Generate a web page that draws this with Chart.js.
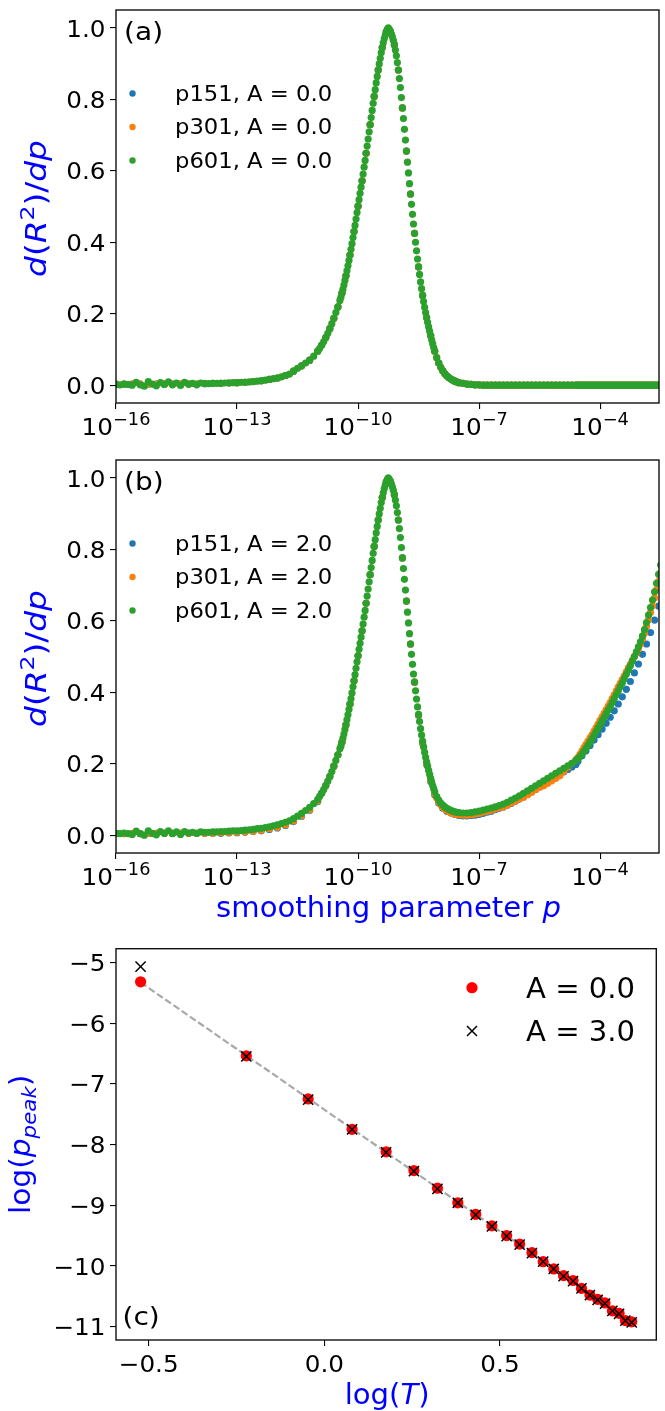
<!DOCTYPE html>
<html>
<head>
<meta charset="utf-8">
<script src="https://cdn.jsdelivr.net/npm/chart.js@4.4.1/dist/chart.umd.min.js"></script>
<style>
  body { margin: 0; background: #fff; width: 665px; height: 1411px; position: relative; overflow: hidden; }
  canvas { position: absolute; left: 0; }
</style>
</head>
<body>
<canvas id="chartA" width="665" height="450" style="top:0"></canvas>
<canvas id="chartB" width="665" height="490" style="top:450px"></canvas>
<canvas id="chartC" width="665" height="471" style="top:940px"></canvas>
<script>
// exponents of the smoothing parameter p (x = 10^e), one list per grid
const logP601 = [
  -16,-15.9,-15.8,-15.7,-15.6,-15.5,-15.4,-15.3,-15.2,-15.1,-15,-14.9,-14.8,-14.7,-14.6,-14.5,-14.4,-14.3,-14.2,-14.1,
  -14,-13.9,-13.8,-13.7,-13.6,-13.5,-13.4,-13.3,-13.2,-13.1,-13,-12.9,-12.8,-12.7,-12.6,-12.5,-12.4,-12.3,-12.2,-12.1,
  -12,-11.9,-11.8,-11.7,-11.6,-11.5,-11.4,-11.3,-11.2,-11.1,-11,
  -10.95,-10.9,-10.85,-10.8,-10.75,-10.7,-10.65,-10.6,-10.55,-10.5,-10.45,
  -10.425,-10.4,-10.375,-10.35,-10.325,-10.3,-10.275,-10.25,-10.225,-10.2,
  -10.175,-10.15,-10.125,-10.1,-10.075,-10.05,-10.025,-10,-9.975,-9.95,
  -9.925,-9.9,-9.875,-9.85,-9.825,-9.8,-9.775,-9.75,-9.725,-9.7,
  -9.675,-9.65,-9.625,-9.6,-9.575,-9.55,-9.525,-9.5,-9.475,-9.45,
  -9.425,-9.4,-9.375,-9.35,-9.325,-9.3,-9.275,-9.25,-9.225,-9.2,
  -9.175,-9.15,-9.125,-9.1,-9.075,-9.05,-9.025,-9,-8.975,-8.95,
  -8.925,-8.9,-8.875,-8.85,-8.825,-8.8,-8.775,-8.75,-8.725,-8.7,
  -8.675,-8.65,-8.625,-8.6,-8.575,-8.55,-8.525,-8.5,-8.475,-8.45,
  -8.425,-8.4,-8.375,-8.35,-8.325,-8.3,-8.275,-8.25,-8.225,-8.2,
  -8.175,-8.15,-8.125,-8.1,
  -8.05,-8,-7.95,-7.9,-7.85,-7.8,-7.75,-7.7,-7.65,-7.6,-7.55,-7.5,
  -7.4,-7.3,-7.2,-7.1,-7,-6.9,-6.8,-6.7,-6.6,-6.5,-6.4,-6.3,-6.2,-6.1,-6,-5.9,-5.8,-5.7,-5.6,-5.5,
  -5.4,-5.3,-5.2,-5.1,-5,-4.9,-4.8,-4.7,-4.6,
  -4.55,-4.5,-4.45,-4.4,-4.35,-4.3,-4.25,-4.2,-4.15,-4.1,-4.05,-4,-3.95,-3.9,-3.85,-3.8,-3.75,-3.7,-3.65,-3.6,
  -3.55,-3.5,-3.45,-3.4,-3.35,-3.3,-3.25,-3.2,-3.15,-3.1,-3.05,-3,-2.95,-2.9,-2.85,-2.8,-2.75,-2.7,-2.65,-2.6,
  -2.55,-2.5
];
const logP301 = [
  -16,-15.8,-15.6,-15.4,-15.2,-15,-14.8,-14.6,-14.4,-14.2,-14,-13.8,-13.6,-13.4,-13.2,-13,-12.8,-12.6,-12.4,-12.2,
  -12,-11.8,-11.6,-11.4,-11.2,-11,
  -10.9,-10.8,-10.7,-10.6,-10.5,-10.4,-10.3,-10.2,-10.1,-10,-9.9,-9.8,-9.7,-9.6,-9.5,-9.4,-9.3,-9.2,-9.1,-9,
  -8.9,-8.8,-8.7,-8.6,-8.5,-8.4,-8.3,-8.2,-8.1,
  -8.05,-8,-7.95,-7.9,-7.85,-7.8,-7.75,-7.7,-7.65,-7.6,-7.55,-7.5,
  -7.4,-7.3,-7.2,-7.1,-7,-6.9,-6.8,-6.7,-6.6,-6.5,-6.4,-6.3,-6.2,-6.1,-6,-5.9,-5.8,-5.7,-5.6,-5.5,
  -5.4,-5.3,-5.2,-5.1,-5,-4.9,-4.8,-4.7,-4.6,
  -4.55,-4.5,-4.45,-4.4,-4.35,-4.3,-4.25,-4.2,-4.15,-4.1,-4.05,-4,-3.95,-3.9,-3.85,-3.8,-3.75,-3.7,-3.65,-3.6,
  -3.55,-3.5,-3.45,-3.4,-3.35,-3.3,-3.25,-3.2,-3.15,-3.1,-3.05,-3,-2.95,-2.9,-2.85,-2.8,-2.75,-2.7,-2.65,-2.6,
  -2.55,-2.5
];
const logP151 = [
  -16,-15.8,-15.6,-15.4,-15.2,-15,-14.8,-14.6,-14.4,-14.2,-14,-13.8,-13.6,-13.4,-13.2,-13,-12.8,-12.6,-12.4,-12.2,
  -12,-11.8,-11.6,-11.4,-11.2,-11,
  -10.9,-10.8,-10.7,-10.6,-10.5,-10.4,-10.3,-10.2,-10.1,-10,-9.9,-9.8,-9.7,-9.6,-9.5,-9.4,-9.3,-9.2,-9.1,-9,
  -8.9,-8.8,-8.7,-8.6,-8.5,-8.4,-8.3,-8.2,-8.1,
  -8,-7.9,-7.8,-7.7,-7.6,-7.5,
  -7.4,-7.3,-7.2,-7.1,-7,-6.9,-6.8,-6.7,-6.6,-6.5,-6.4,-6.3,-6.2,-6.1,-6,-5.9,-5.8,-5.7,-5.6,-5.5,
  -5.4,-5.3,-5.2,-5.1,-5,-4.9,-4.8,-4.7,-4.6,
  -4.55,-4.45,-4.35,-4.25,-4.15,-4.05,-3.95,-3.85,-3.75,-3.65,-3.55,-3.45,-3.35,-3.25,-3.15,-3.05,-2.95,-2.85,-2.75,-2.65,
  -2.55
];

// panel (a): d(R^2)/dp, A = 0.0
const a601 = [
  0.002,0.001,0.003,0.002,0,0.008,0.001,-0.003,0.010,0.003,-0.002,0.007,0.002,0.009,0.001,0.006,-0.001,0.008,0.003,0.005,
  0.001,0.006,0.004,0.004,0.005,0.005,0.005,0.006,0.006,0.007,0.007,0.008,0.008,0.009,0.010,0.011,0.012,0.014,0.016,0.018,
  0.020,0.023,0.027,0.031,0.039,0.047,0.054,0.062,0.070,0.081,0.095,
  0.103,0.112,0.122,0.133,0.145,0.158,0.172,0.187,0.203,0.219,0.237,
  0.246,0.257,0.268,0.280,0.293,0.306,0.320,0.334,0.349,0.364,
  0.380,0.396,0.413,0.430,0.447,0.465,0.483,0.501,0.519,0.537,
  0.554,0.572,0.591,0.610,0.629,0.649,0.669,0.689,0.709,0.729,
  0.749,0.769,0.789,0.808,0.827,0.846,0.864,0.882,0.899,0.915,
  0.931,0.945,0.958,0.970,0.980,0.989,0.996,1.000,0.996,0.990,
  0.983,0.975,0.965,0.953,0.938,0.922,0.903,0.882,0.858,0.833,
  0.805,0.776,0.746,0.716,0.686,0.655,0.624,0.594,0.564,0.535,
  0.506,0.478,0.451,0.425,0.400,0.376,0.353,0.331,0.310,0.289,
  0.270,0.251,0.234,0.218,0.203,0.189,0.176,0.163,0.151,0.139,
  0.127,0.116,0.105,0.095,
  0.077,0.062,0.050,0.040,0.032,0.026,0.021,0.017,0.014,0.011,0.009,0.007,
  0.005,0.003,0.002,0.001,0.001,0,0,0,0,0,0,0,0,0,0,0,0,0,0,0,
  0,0,0,0,0,0,0,0,0,
  0,0,0,0,0,0,0,0,0,0,0,0,0,0,0,0,0,0,0,0,
  0,0,0,0,0,0,0,0,0,0,0,0,0,0,0,0,0,0,0,0,
  0,0
];
const a301 = [
  0.003,0.003,0.003,0.003,0.003,0.003,0.003,0.003,0.003,0.003,0.003,0.004,0.005,0.005,0.006,0.007,0.008,0.010,0.012,0.016,
  0.020,0.027,0.039,0.054,0.070,0.095,
  0.112,0.133,0.158,0.187,0.219,0.257,0.306,0.364,0.430,0.501,0.572,0.649,0.729,0.808,0.882,0.945,0.989,0.990,0.953,0.882,
  0.776,0.655,0.535,0.425,0.331,0.251,0.189,0.139,0.095,
  0.077,0.062,0.050,0.040,0.032,0.026,0.021,0.017,0.014,0.011,0.009,0.007,
  0.005,0.003,0.002,0.001,0.001,0,0,0,0,0,0,0,0,0,0,0,0,0,0,0,
  0,0,0,0,0,0,0,0,0,
  0,0,0,0,0,0,0,0,0,0,0,0,0,0,0,0,0,0,0,0,
  0,0,0,0,0,0,0,0,0,0,0,0,0,0,0,0,0,0,0,0,
  0,0
];
const a151 = [
  0.003,0.003,0.003,0.003,0.003,0.003,0.003,0.003,0.003,0.003,0.003,0.004,0.005,0.005,0.006,0.007,0.008,0.010,0.012,0.016,
  0.020,0.027,0.039,0.054,0.070,0.095,
  0.112,0.133,0.158,0.187,0.219,0.257,0.306,0.364,0.430,0.501,0.572,0.649,0.729,0.808,0.882,0.945,0.989,0.990,0.953,0.882,
  0.776,0.655,0.535,0.425,0.331,0.251,0.189,0.139,0.095,
  0.062,0.040,0.026,0.017,0.011,0.007,
  0.005,0.003,0.002,0.001,0.001,0,0,0,0,0,0,0,0,0,0,0,0,0,0,0,
  0,0,0,0,0,0,0,0,0,
  0,0,0,0,0,0,0,0,0,0,0,0,0,0,0,0,0,0,0,0,
  0
];

// panel (b): d(R^2)/dp, A = 2.0
const b601 = [
  0.005,0.004,0.006,0.004,0.002,0.011,0.004,0.000,0.012,0.005,0.001,0.010,0.005,0.012,0.004,0.009,0.002,0.010,0.006,0.008,
  0.005,0.009,0.008,0.008,0.009,0.009,0.010,0.010,0.011,0.012,0.012,0.013,0.014,0.015,0.016,0.018,0.019,0.021,0.023,0.026,
  0.029,0.032,0.036,0.040,0.046,0.053,0.061,0.069,0.078,0.088,0.100,
  0.109,0.118,0.128,0.139,0.151,0.164,0.178,0.193,0.209,0.225,0.242,
  0.249,0.260,0.271,0.283,0.296,0.309,0.323,0.337,0.352,0.367,
  0.382,0.398,0.415,0.432,0.449,0.467,0.485,0.502,0.520,0.537,
  0.554,0.572,0.591,0.610,0.629,0.649,0.669,0.689,0.709,0.729,
  0.749,0.769,0.789,0.808,0.827,0.846,0.864,0.882,0.899,0.915,
  0.931,0.945,0.958,0.970,0.980,0.989,0.996,1.000,0.996,0.990,
  0.983,0.975,0.965,0.953,0.938,0.922,0.903,0.882,0.858,0.833,
  0.805,0.776,0.746,0.716,0.686,0.655,0.624,0.594,0.564,0.535,
  0.506,0.478,0.451,0.428,0.404,0.381,0.359,0.338,0.318,0.298,
  0.280,0.263,0.247,0.232,0.218,0.205,0.193,0.181,0.170,0.159,
  0.149,0.139,0.130,0.122,
  0.108,0.098,0.090,0.084,0.079,0.075,0.072,0.069,0.067,0.065,0.064,0.063,
  0.062,0.062,0.063,0.065,0.067,0.070,0.073,0.076,0.079,0.083,0.087,0.092,0.098,0.104,0.110,0.117,0.124,0.131,0.138,0.145,
  0.152,0.159,0.166,0.173,0.180,0.187,0.194,0.201,0.209,
  0.214,0.220,0.227,0.235,0.243,0.252,0.261,0.270,0.280,0.290,0.300,0.310,0.320,0.330,0.340,0.350,0.360,0.371,0.382,0.393,
  0.404,0.415,0.426,0.438,0.450,0.462,0.474,0.487,0.500,0.513,0.527,0.541,0.557,0.575,0.595,0.616,0.637,0.658,0.681,0.705,
  0.730,0.756
];
const b301 = [
  0.004,0.004,0.004,0.004,0.005,0.005,0.005,0.005,0.005,0.005,0.005,0.005,0.005,0.006,0.007,0.008,0.009,0.011,0.014,0.018,
  0.022,0.029,0.040,0.055,0.072,0.096,
  0.118,0.139,0.164,0.193,0.225,0.260,0.309,0.367,0.432,0.502,0.572,0.649,0.729,0.808,0.882,0.945,0.989,0.990,0.953,0.882,
  0.776,0.655,0.535,0.428,0.336,0.259,0.200,0.153,0.116,
  0.104,0.093,0.085,0.078,0.073,0.069,0.066,0.063,0.061,0.059,0.058,0.057,
  0.056,0.056,0.057,0.059,0.061,0.064,0.067,0.070,0.073,0.077,0.079,0.084,0.090,0.096,0.102,0.106,0.113,0.120,0.127,0.134,
  0.138,0.145,0.152,0.159,0.166,0.178,0.190,0.201,0.211,
  0.217,0.226,0.235,0.245,0.254,0.263,0.272,0.281,0.291,0.301,0.311,0.321,0.331,0.341,0.351,0.361,0.371,0.382,0.393,0.404,
  0.415,0.425,0.435,0.446,0.457,0.468,0.478,0.489,0.500,0.510,0.522,0.535,0.549,0.565,0.584,0.603,0.623,0.642,0.664,0.687,
  0.710,0.734
];
const b151 = [
  0.004,0.004,0.004,0.004,0.005,0.005,0.005,0.005,0.005,0.005,0.005,0.005,0.005,0.005,0.006,0.007,0.008,0.010,0.012,0.016,
  0.020,0.027,0.038,0.053,0.070,0.094,
  0.118,0.139,0.164,0.193,0.225,0.260,0.309,0.367,0.432,0.502,0.572,0.649,0.729,0.808,0.882,0.945,0.989,0.990,0.953,0.882,
  0.776,0.655,0.535,0.428,0.335,0.257,0.198,0.150,0.113,
  0.090,0.075,0.067,0.062,0.058,0.055,
  0.054,0.054,0.055,0.056,0.058,0.061,0.064,0.067,0.071,0.075,0.079,0.084,0.089,0.095,0.101,0.107,0.114,0.121,0.128,0.135,
  0.142,0.149,0.156,0.163,0.170,0.177,0.184,0.191,0.198,
  0.207,0.222,0.236,0.251,0.266,0.281,0.297,0.313,0.330,0.348,0.367,0.387,0.408,0.430,0.454,0.479,0.506,0.535,0.567,0.602,
  0.641
];

const labelsA = ['p151, A = 0.0', 'p301, A = 0.0', 'p601, A = 0.0'];
const labelsB = ['p151, A = 2.0', 'p301, A = 2.0', 'p601, A = 2.0'];
const colors = ['#1f77b4', '#ff7f0e', '#2ca02c'];
const xTickExp = [-16, -13, -10, -7, -4];
const yTicksAB = [0, 0.2, 0.4, 0.6, 0.8, 1.0];

// panel (c): log(p_peak) against log(T)
const logT = [-0.523, -0.222, -0.046, 0.079, 0.176, 0.255, 0.322, 0.380, 0.431, 0.477, 0.519, 0.556, 0.591,
              0.623, 0.653, 0.681, 0.708, 0.732, 0.756, 0.778, 0.799, 0.820, 0.839, 0.857, 0.875];
const peakA0 = [-5.32, -6.54, -7.25, -7.75, -8.12, -8.43, -8.72, -8.96, -9.15, -9.34, -9.50, -9.64, -9.78,
                -9.93, -10.05, -10.16, -10.24, -10.37, -10.48, -10.55, -10.61, -10.74, -10.78, -10.90, -10.92];
const peakA3 = [-5.07, -6.55, -7.26, -7.75, -8.13, -8.44, -8.73, -8.96, -9.16, -9.35, -9.51, -9.65, -9.79,
                -9.93, -10.05, -10.17, -10.25, -10.37, -10.48, -10.56, -10.62, -10.74, -10.79, -10.90, -10.93];
const fitLogT = [-0.523, 0.875];
const fitPeak = [-5.33, -10.93];
const xTicksC = [-0.5, 0, 0.5];
const yTicksC = [-11, -10, -9, -8, -7, -6, -5];

const FONT = '"DejaVu Sans"';
const TICK = { size: 23.5, sx: 1.05 };
const BLUE = '#0000ff';
Chart.defaults.font.family = FONT;
Chart.defaults.color = '#000';

const minus = v => (Number(v) < 0 ? '\u2212' : '') + String(v).replace('-', '');
const pts = (xs, ys, f) => xs.map((x, i) => ({ x: f ? f(x) : x, y: ys[i] }));

// text with italic / superscript / subscript pieces, like matplotlib mathtext
function richText(ctx, parts, x, y, o) {
  const sx = o.sx || 1;
  const fontOf = p => (p[1].includes('it') ? 'italic ' : '') +
    ((p[1].includes('sup') || p[1].includes('sub')) ? o.size * 0.72 : o.size) + 'px ' + FONT;
  let w = 0;
  const widths = parts.map(p => { ctx.font = fontOf(p); const m = ctx.measureText(p[0]).width; w += m; return m; });
  ctx.save();
  ctx.translate(x, y);
  if (o.rotate) ctx.rotate(o.rotate);
  ctx.scale(sx, 1);
  ctx.fillStyle = o.color || '#000';
  ctx.textBaseline = 'alphabetic';
  ctx.textAlign = 'left';
  let cx = o.align === 'left' ? 0 : o.align === 'right' ? -w : -w / 2;
  parts.forEach((p, i) => {
    ctx.font = fontOf(p);
    const dy = p[1].includes('sup') ? -o.size * 0.42 : p[1].includes('sub') ? o.size * 0.22 : 0;
    ctx.fillText(p[0], cx, dy);
    cx += widths[i];
  });
  ctx.restore();
}

const framePlugin = {
  id: 'frame',
  afterDatasetsDraw(chart) {
    const { ctx, chartArea: a } = chart;
    ctx.save();
    ctx.strokeStyle = '#111';
    ctx.lineWidth = 1.4;
    ctx.strokeRect(a.left, a.top, a.right - a.left, a.bottom - a.top);
    ctx.restore();
  }
};

// y tick labels, centred on the tick like matplotlib
function drawYTicks(chart, fmt) {
  const { ctx, chartArea: a, scales: { y } } = chart;
  y.ticks.forEach(t => {
    richText(ctx, [[fmt(t.value), '']], a.left - 10.5, y.getPixelForValue(t.value) + TICK.size * 0.37,
      { size: TICK.size, sx: TICK.sx, align: 'right' });
  });
}

const axisGrid = { drawOnChartArea: false, drawTicks: true, tickLength: 6, color: '#000', lineWidth: 1.1 };

function makeDpChart(id, xs, ys, labels, tag, padTop, xHeight, withXLabel) {
  const textPlugin = {
    id: 'texts' + id,
    afterDraw(chart) {
      const { ctx, chartArea: a, scales: { x } } = chart;
      drawYTicks(chart, v => v.toFixed(1));
      x.ticks.forEach(t => {
        const n = Math.round(Math.log10(t.value));
        richText(ctx, [['10', ''], [minus(n), 'sup']], x.getPixelForValue(t.value), a.bottom + 32,
          { size: TICK.size, sx: TICK.sx });
      });
      richText(ctx, [['d', 'it'], ['(', ''], ['R', 'it'], ['2', 'sup'], [')', ''], ['/', ''], ['d', 'it'], ['p', 'it']],
        46, (a.top + a.bottom) / 2 + 2, { size: 28, sx: 1.17, color: BLUE, rotate: -Math.PI / 2 });
      if (withXLabel) {
        richText(ctx, [['smoothing parameter ', ''], ['p', 'it']], (a.left + a.right) / 2 + 1, a.bottom + 64,
          { size: 28, sx: 1.04, color: BLUE });
      }
      richText(ctx, [[tag, '']], a.left + 8, a.top + 29.5, { size: 25.5, sx: 1.1, align: 'left' });
      labels.forEach((lab, i) => {
        const my = a.top + 83.5 + 33.5 * i;
        ctx.save();
        ctx.fillStyle = colors[i];
        ctx.beginPath();
        ctx.arc(a.left + 16.5, my, 3.2, 0, Math.PI * 2);
        ctx.fill();
        ctx.restore();
        richText(ctx, [[lab, '']], a.left + 59, my + 7.4, { size: 21, sx: 1.08, align: 'left' });
      });
    }
  };
  return new Chart(document.getElementById(id), {
    type: 'scatter',
    data: {
      datasets: labels.map((lab, i) => ({
        label: lab,
        data: pts(xs[i], ys[i], e => Math.pow(10, e)),
        backgroundColor: colors[i],
        borderWidth: 0,
        pointRadius: 3.6,
        pointHoverRadius: 3.6,
        order: 3 - i,
        clip: 0
      }))
    },
    options: {
      responsive: false,
      animation: false,
      devicePixelRatio: 1,
      events: [],
      layout: { padding: { top: padTop, right: 6, left: 0, bottom: 0 } },
      plugins: { legend: { display: false }, tooltip: { enabled: false } },
      scales: {
        x: {
          type: 'logarithmic',
          min: 1e-16,
          max: Math.pow(10, -2.54),
          afterBuildTicks: sc => { sc.ticks = xTickExp.map(n => ({ value: Math.pow(10, n) })); },
          afterFit: sc => { sc.height = xHeight; },
          ticks: { display: false },
          grid: axisGrid,
          border: { display: false }
        },
        y: {
          min: -0.05,
          max: 1.05,
          afterBuildTicks: sc => { sc.ticks = yTicksAB.map(v => ({ value: v })); },
          afterFit: sc => { sc.width = 116; },
          ticks: { display: false },
          grid: axisGrid,
          border: { display: false }
        }
      }
    },
    plugins: [framePlugin, textPlugin]
  });
}

makeDpChart('chartA', [logP151, logP301, logP601], [a151, a301, a601], labelsA, '(a)', 10, 47, false);
makeDpChart('chartB', [logP151, logP301, logP601], [b151, b301, b601], labelsB, '(b)', 10, 87, true);

const textPluginC = {
  id: 'textsC',
  afterDraw(chart) {
    const { ctx, chartArea: a, scales: { x } } = chart;
    drawYTicks(chart, v => minus(v));
    x.ticks.forEach(t => {
      richText(ctx, [[minus(t.value.toFixed(1)), '']], x.getPixelForValue(t.value), a.bottom + 31.7,
        { size: TICK.size, sx: TICK.sx });
    });
    richText(ctx, [['log(', ''], ['p', 'it'], ['peak', 'itsub'], [')', '']], 30, (a.top + a.bottom) / 2,
      { size: 28, sx: 1.06, color: BLUE, rotate: -Math.PI / 2 });
    richText(ctx, [['log(', ''], ['T', 'it'], [')', '']], (a.left + a.right) / 2 + 1, a.bottom + 64,
      { size: 28, sx: 1.04, color: BLUE });
    richText(ctx, [['(c)', '']], a.left + 6.5, a.bottom - 14.8, { size: 25.5, sx: 1.1, align: 'left' });
    // legend
    const lx = a.left + 356;
    ctx.save();
    ctx.fillStyle = '#ff0000';
    ctx.beginPath();
    ctx.arc(lx, a.top + 39, 5.6, 0, Math.PI * 2);
    ctx.fill();
    ctx.strokeStyle = '#000';
    ctx.lineWidth = 1.5;
    const cy = a.top + 82.3, r = 5;
    ctx.beginPath();
    ctx.moveTo(lx - r, cy - r); ctx.lineTo(lx + r, cy + r);
    ctx.moveTo(lx - r, cy + r); ctx.lineTo(lx + r, cy - r);
    ctx.stroke();
    ctx.restore();
    richText(ctx, [['A = 0.0', '']], a.left + 410, a.top + 49, { size: 28, sx: 1.04, align: 'left' });
    richText(ctx, [['A = 3.0', '']], a.left + 410, a.top + 92.3, { size: 28, sx: 1.04, align: 'left' });
  }
};

new Chart(document.getElementById('chartC'), {
  type: 'scatter',
  data: {
    datasets: [
      {
        label: 'fit',
        data: pts(fitLogT, fitPeak),
        showLine: true,
        borderColor: '#a9a9a9',
        borderWidth: 2.2,
        borderDash: [7, 3],
        pointRadius: 0,
        order: 3
      },
      {
        label: 'A = 0.0',
        data: pts(logT, peakA0),
        backgroundColor: '#ff0000',
        borderWidth: 0,
        pointRadius: 5.6,
        pointHoverRadius: 5.6,
        order: 2
      },
      {
        label: 'A = 3.0',
        data: pts(logT, peakA3),
        pointStyle: 'crossRot',
        borderColor: '#000',
        backgroundColor: '#000',
        borderWidth: 1.5,
        pointRadius: 7.2,
        pointHoverRadius: 7.2,
        order: 1
      }
    ]
  },
  options: {
    responsive: false,
    animation: false,
    devicePixelRatio: 1,
    events: [],
    layout: { padding: { top: 6, right: 6, left: 0, bottom: 0 } },
    plugins: { legend: { display: false }, tooltip: { enabled: false } },
    scales: {
      x: {
        type: 'linear',
        min: -0.593,
        max: 0.945,
        afterBuildTicks: sc => { sc.ticks = xTicksC.map(v => ({ value: v })); },
        afterFit: sc => { sc.height = 71; },
        ticks: { display: false },
        grid: axisGrid,
        border: { display: false }
      },
      y: {
        min: -11.22,
        max: -4.775,
        afterBuildTicks: sc => { sc.ticks = yTicksC.map(v => ({ value: v })); },
        afterFit: sc => { sc.width = 116; },
        ticks: { display: false },
        grid: axisGrid,
        border: { display: false }
      }
    }
  },
  plugins: [framePlugin, textPluginC]
});
</script>
</body>
</html>
